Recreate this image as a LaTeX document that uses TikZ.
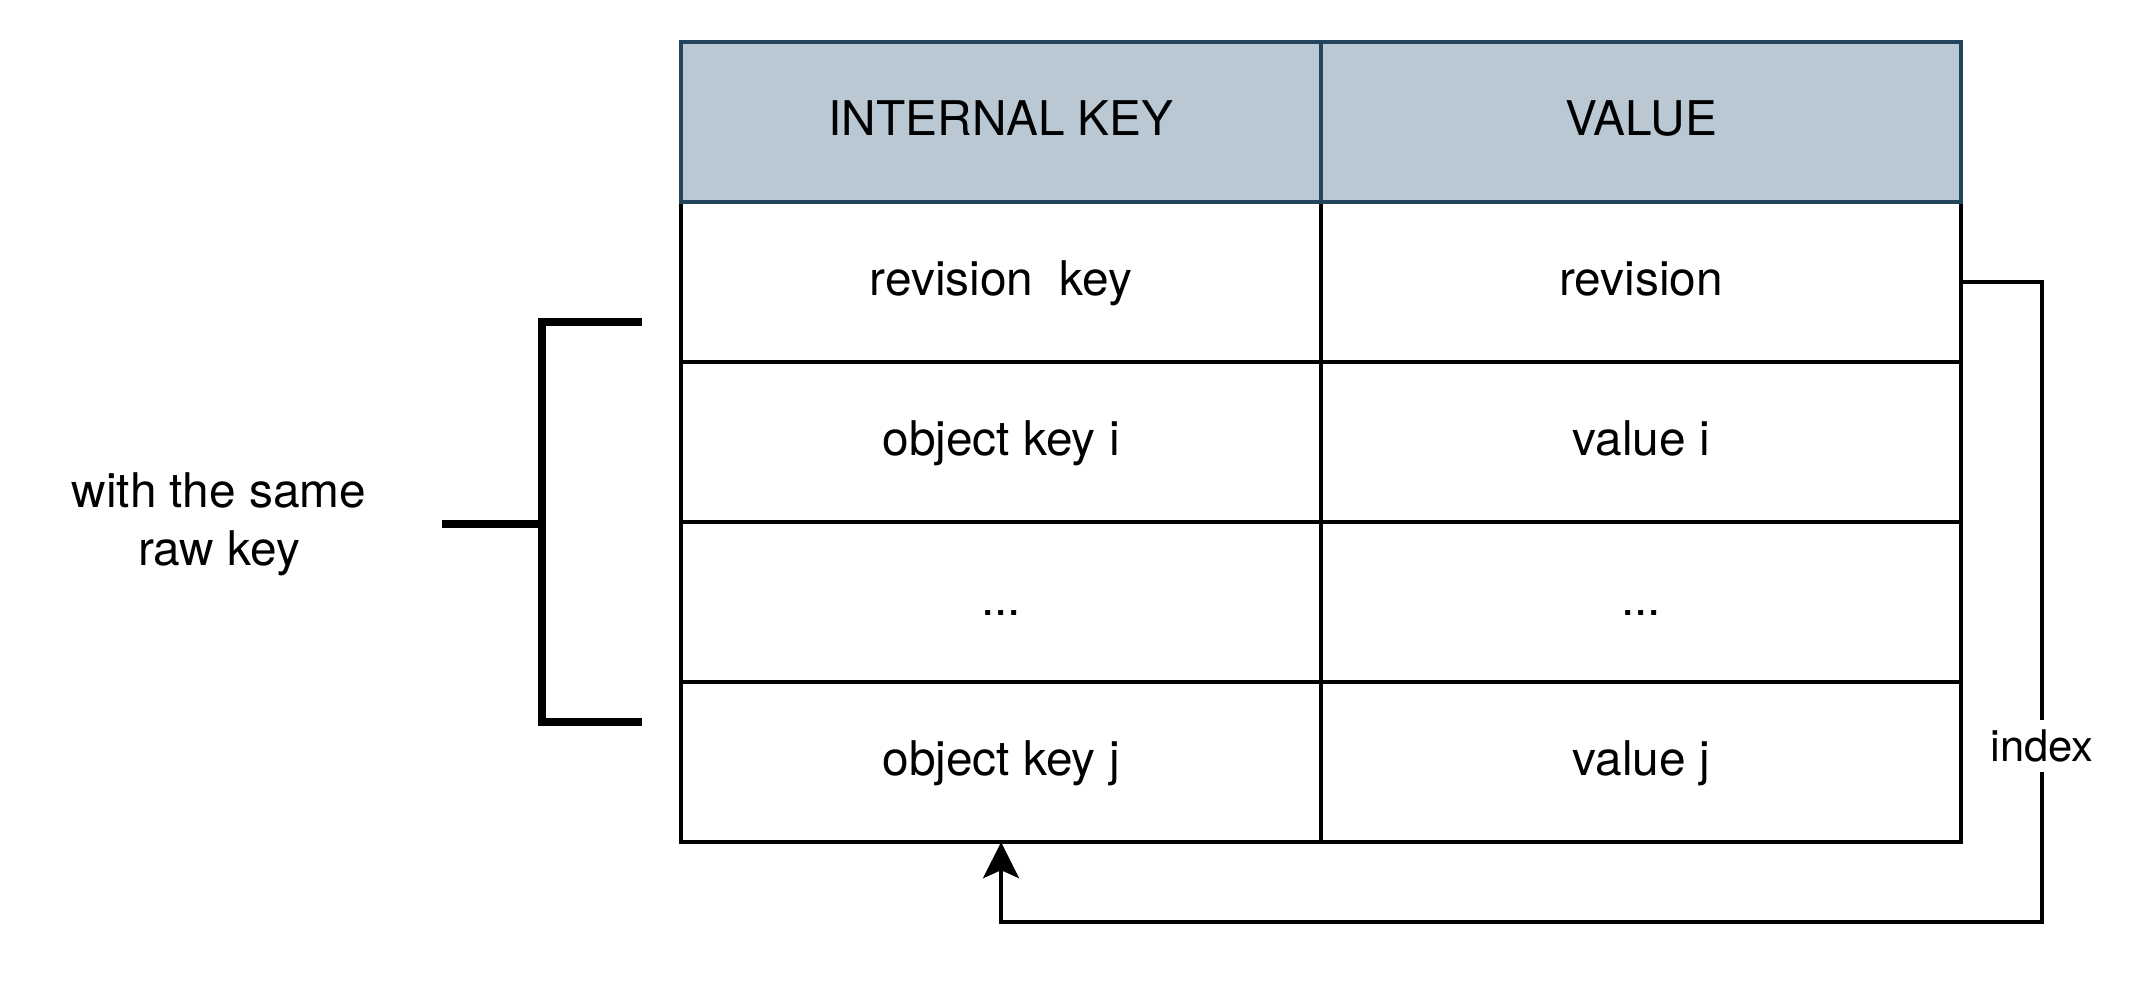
\documentclass[tikz,border=0pt]{standalone}
\usepackage{fontspec}
\setmainfont{TeX Gyre Heros}
\usepackage{tikz}
\usetikzlibrary{arrows.meta,positioning}
\definecolor{hdrfill}{HTML}{BAC8D3}
\definecolor{hdrline}{HTML}{23445D}
\tikzset{
  tab_c/.style = {rectangle, draw=black, line width=1mm, outer sep=0pt,
    inner sep=0pt, minimum width=16cm, minimum height=4cm,
    text height=27pt, text depth=7.5pt,
    font=\fontsize{34}{41}\selectfont},% cellule du tableau
  tab_h/.style = {tab_c, draw=hdrline, fill=hdrfill},% cellule d'en-tete
  lnk/.style = {draw=black, line width=0.85mm,
    -{Stealth[length=0.9cm, width=0.9cm, inset=0.2cm]}},% fleche index
  lnk_l/.style = {fill=white, inner xsep=2pt, inner ysep=7pt,
    font=\fontsize{31}{37}\selectfont},% etiquette de la fleche
  brk/.style = {draw=black, line width=2mm},% accolade carree
  note/.style = {align=center, inner sep=0pt,
    font=\fontsize{34}{41}\selectfont}% texte a gauche
}

\begin{document}
\begin{tikzpicture}[x=0.025cm, y=-0.025cm]
    \useasboundingbox (0,0) rectangle (2140,996);
    % lignes du tableau
    \node [tab_c, anchor=north west](K1) at (681,202) {revision\ \ key};
    \node [tab_c, right=0pt of K1](V1) {revision};
    \node [tab_c, below=0pt of K1](K2) {object key i};
    \node [tab_c, right=0pt of K2](V2) {value i};
    \node [tab_c, below=0pt of K2](K3) {...};
    \node [tab_c, right=0pt of K3](V3) {...};
    \node [tab_c, below=0pt of K3](K4) {object key j};
    \node [tab_c, right=0pt of K4](V4) {value j};
    % en-tete
    \node [tab_h, above=0pt of K1](HK) {INTERNAL KEY};
    \node [tab_h, above=0pt of V1](HV) {VALUE};
    % accolade et texte
    \node [note](N) at (219,524) {with the same\\raw key};
    \draw [brk] (642,322) -- (542,322) -- (542,722) -- (642,722);
    \draw [brk] (442,524) -- (542,524);
    % fleche index
    \coordinate (B) at (2042,922);
    \draw [lnk] (V1.east) -| node [lnk_l, pos=0.8625](I) {index} (B) -| (K4.south);
\end{tikzpicture}
\end{document}
